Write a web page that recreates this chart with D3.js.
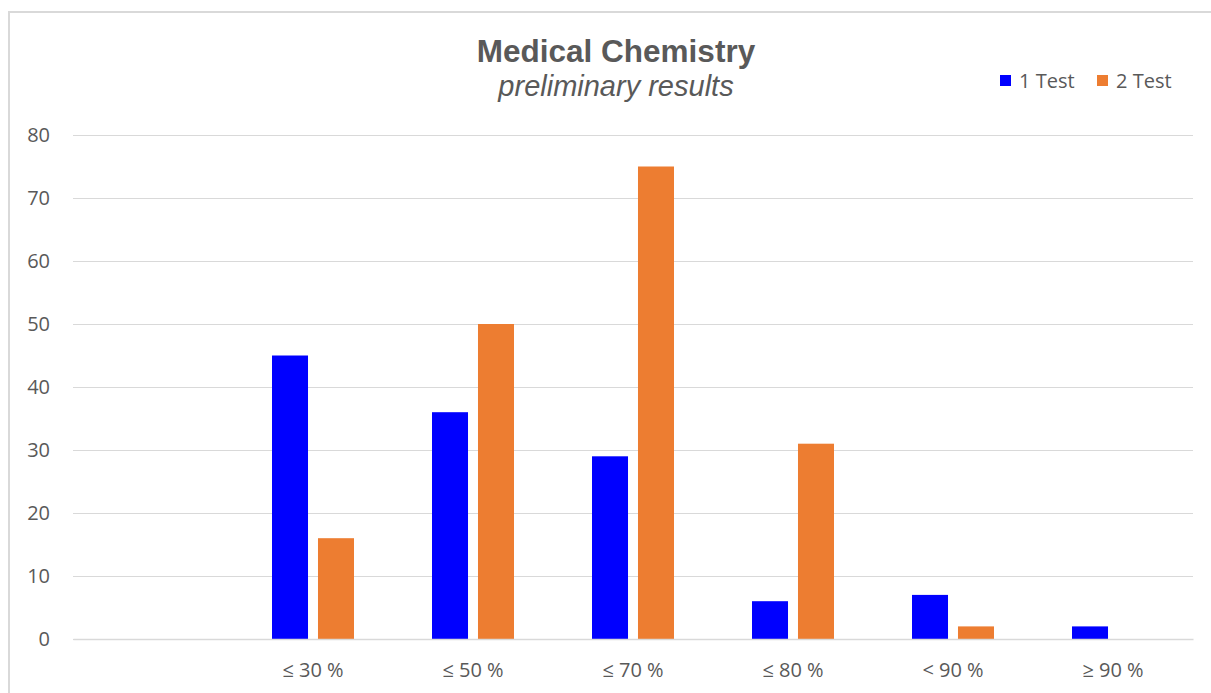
<!DOCTYPE html>
<html>
<head>
<meta charset="utf-8">
<script src="https://cdn.jsdelivr.net/npm/d3@7"></script>
<style>
  html, body { margin: 0; padding: 0; background: #fff; }
  svg { display: block; }
</style>
</head>
<body>
<svg id="chart" width="1211" height="693"></svg>
<script>
const categories = ["", "≤ 30 %", "≤ 50 %", "≤ 70 %", "≤ 80 %", "< 90 %", "≥ 90 %"];
const seriesNames = ["1 Test", "2 Test"];
const test1 = [null, 45, 36, 29, 6, 7, 2];
const test2 = [null, 16, 50, 75, 31, 2, 0];
const yTicks = [0, 10, 20, 30, 40, 50, 60, 70, 80];
const colors = ["#0000FF", "#ED7D31"];

const svg = d3.select("#chart");
const W = 1211, H = 693;
const plot = { left: 73, right: 1193, top: 135, bottom: 639 };

// chart border
svg.append("rect")
  .attr("x", 9).attr("y", 12)
  .attr("width", W + 20).attr("height", H + 20)
  .attr("fill", "none").attr("stroke", "#d9d9d9").attr("stroke-width", 2);

const x0 = d3.scaleBand().domain(d3.range(categories.length))
  .range([plot.left, plot.right]).paddingInner(0).paddingOuter(0);
const x1 = d3.scaleBand().domain(seriesNames)
  .range([0, x0.bandwidth()]).paddingInner(0.217).paddingOuter(0.848);
const y = d3.scaleLinear().domain([0, 80]).range([plot.bottom, plot.top]);

const labelFont = "'Open Sans', sans-serif";
const labelSize = 20;

// gridlines
const yAxis = d3.axisLeft(y).tickValues(yTicks)
  .tickSize(-(plot.right - plot.left)).tickPadding(23);
const gy = svg.append("g").attr("transform", `translate(${plot.left},0)`).call(yAxis);
gy.select(".domain").remove();
gy.selectAll(".tick line").attr("stroke", "#d9d9d9").attr("stroke-width", 1)
  .attr("shape-rendering", "crispEdges");
gy.selectAll(".tick text")
  .attr("fill", "#595959").attr("font-family", labelFont)
  .attr("font-size", labelSize);

// bars
const data = categories.map((c, i) => ({ i, vals: [test1[i], test2[i]] }));
const groups = svg.append("g").selectAll("g").data(data).join("g")
  .attr("transform", d => `translate(${x0(d.i)},0)`);
groups.selectAll("rect")
  .data(d => d.vals.map((v, k) => ({ v, k })).filter(e => e.v != null && e.v > 0))
  .join("rect")
  .attr("x", e => x1(seriesNames[e.k]))
  .attr("width", x1.bandwidth())
  .attr("y", e => y(e.v))
  .attr("height", e => y(0) - y(e.v))
  .attr("fill", e => colors[e.k]);

// x axis baseline + labels
const xAxis = d3.axisBottom(x0).tickFormat(i => categories[i]).tickSize(0).tickPadding(24);
const gx = svg.append("g").attr("transform", `translate(0,${plot.bottom})`).call(xAxis);
gx.select(".domain").attr("stroke", "#d9d9d9").attr("stroke-width", 1.5);
gx.selectAll(".tick text")
  .attr("fill", "#595959").attr("font-family", labelFont)
  .attr("font-size", labelSize);

// title
svg.append("text").attr("x", 616).attr("y", 62).attr("text-anchor", "middle")
  .attr("font-family", "'Liberation Sans', Arial, sans-serif").attr("font-weight", "bold")
  .attr("font-size", 31.5).attr("fill", "#595959").text("Medical Chemistry");
svg.append("text").attr("x", 616).attr("y", 96).attr("text-anchor", "middle")
  .attr("font-family", "'Liberation Sans', Arial, sans-serif").attr("font-style", "italic")
  .attr("font-size", 29).attr("fill", "#595959").text("preliminary results");

// legend
const legendX = [1000, 1097];
const lg = svg.append("g").selectAll("g").data(seriesNames).join("g")
  .attr("transform", (d, i) => `translate(${legendX[i]},0)`);
lg.append("rect").attr("x", 0).attr("y", 75).attr("width", 11).attr("height", 11)
  .attr("fill", (d, i) => colors[i]);
lg.append("text").attr("x", 19).attr("y", 87.5)
  .attr("font-family", labelFont).attr("font-size", labelSize)
  .attr("fill", "#595959").text(d => d);
</script>
</body>
</html>
